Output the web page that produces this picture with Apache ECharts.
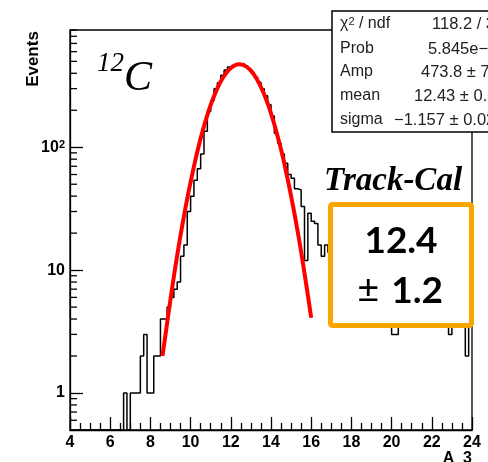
<!DOCTYPE html>
<html>
<head>
<meta charset="utf-8">
<script src="https://cdn.jsdelivr.net/npm/echarts@6/dist/echarts.min.js"></script>
<style>
  html, body { margin: 0; padding: 0; background: #fff; }
  #chart { width: 488px; height: 462px; }
</style>
</head>
<body>
<div id="chart"></div>
<script>
  // histogram: 120 bins of width 1/6 between 4 and 24
  var binStart = 4;
  var binWidth = 1 / 6;
  var counts = [
    0, 0, 0, 0, 0, 0, 0, 0, 0, 0, 0, 0, 0, 0, 0, 0,
    1, 0, 1, 1, 1, 2, 3, 1, 1, 2, 2, 4, 4, 5, 6, 7,
    8, 13, 16, 30, 40, 54, 67, 88, 135, 195, 240, 300, 335, 385, 425, 450,
    462, 466, 471, 478, 460, 432, 402, 372, 338, 300, 262, 222, 180, 130, 108, 88,
    74, 60, 56, 46, 45, 33, 12, 29, 25, 24, 16, 13, 16, 14, 11, 12,
    9, 10, 8, 9, 7, 8, 6, 7, 6, 5, 6, 5, 7, 5, 4, 5,
    3, 3, 5, 4, 6, 4, 5, 4, 4, 5, 4, 6, 4, 5, 4, 4,
    5, 3, 4, 5, 4, 5, 2, 6
  ];

  // gaussian fit line, sampled every 0.2 from 8.6 to 16.0
  var fitStart = 8.6;
  var fitStep = 0.2;
  var fitValues = [
    2.0, 3.4, 5.8, 9.6, 15.4, 23.8, 35.8, 52, 74, 102,
    136, 176, 221, 269, 319, 366, 408, 442, 464, 474,
    469, 450, 420, 380, 333, 284, 235, 189, 147, 111,
    82, 58, 40, 27, 17.6, 11.1, 6.8, 4.1
  ];

  var xMin = 4, xMax = 24, xStep = 2;
  var yMin = 0.5, yMax = 900;
  var yMinorTicks = [0.6, 0.7, 0.8, 0.9, 2, 3, 4, 5, 6, 7, 8, 9,
    20, 30, 40, 50, 60, 70, 80, 90, 200, 300, 400, 500, 600, 700, 800, 900];

  var statsNames = ['{a|χ}{s|2}{a| / ndf}', 'Prob', 'Amp', 'mean', 'sigma'];
  var statsValues = ['118.2 / 34', '5.845e−10', '473.8 ± 7.3', '12.43 ± 0.03', '−1.157 ± 0.025'];

  var chart = echarts.init(document.getElementById('chart'));

  var histData = [];
  for (var i = 0; i < counts.length; i++) {
    histData.push([binStart + i * binWidth, Math.max(counts[i], yMin)]);
  }
  histData.push([binStart + counts.length * binWidth, Math.max(counts[counts.length - 1], yMin)]);

  var fitData = fitValues.map(function (v, k) {
    return [fitStart + k * fitStep, v];
  });

  var labelFont = { fontFamily: 'Liberation Sans', fontWeight: 'bold', fontSize: 16, color: '#000' };
  var statFont = 'Liberation Sans';
  var statRowY = [24, 49, 72, 96, 120];
  var statValX = [432, 428, 421, 414, 394];

  var graphics = [
    {
      type: 'text', x: 33, y: 59, rotation: Math.PI / 2, z: 100,
      style: { text: 'Events', x: 0, y: 0, align: 'center', verticalAlign: 'middle',
        fontFamily: 'Liberation Sans', fontWeight: 'bold', fontSize: 17, fill: '#000' }
    },
    {
      type: 'text', z: 100,
      style: { text: 'A_3', x: 472, y: 451, align: 'right', verticalAlign: 'top',
        fontFamily: 'Liberation Sans', fontWeight: 'bold', fontSize: 16, fill: '#000' }
    },
    {
      type: 'text', z: 100,
      style: { text: '12', x: 97, y: 64, align: 'left', verticalAlign: 'middle',
        fontFamily: 'Liberation Serif', fontStyle: 'italic', fontSize: 27, fill: '#000' }
    },
    {
      type: 'text', z: 100,
      style: { text: 'C', x: 124, y: 79, align: 'left', verticalAlign: 'middle',
        fontFamily: 'Liberation Serif', fontStyle: 'italic', fontSize: 42, fill: '#000' }
    },
    {
      type: 'text', z: 100,
      style: { text: 'Track-Cal', x: 393, y: 181, align: 'center', verticalAlign: 'middle',
        fontFamily: 'Liberation Serif', fontStyle: 'italic', fontWeight: 'bold', fontSize: 33, fill: '#000' }
    },
    {
      type: 'rect', z: 100,
      shape: { x: 332, y: 11, width: 170, height: 121 },
      style: { fill: '#fff', stroke: '#000', lineWidth: 1.5 }
    },
    {
      type: 'rect', z: 100,
      shape: { x: 330.5, y: 204.5, width: 141, height: 121, r: 2 },
      style: { fill: '#fff', stroke: '#F7A600', lineWidth: 5 }
    },
    {
      type: 'text', z: 101,
      style: { text: '12.4', x: 401, y: 241, align: 'center', verticalAlign: 'middle',
        fontFamily: 'Lato', fontWeight: 'bold', fontSize: 37, fill: '#000' }
    },
    {
      type: 'text', z: 101,
      style: { text: '{p|±}{b|1.2}', x: 400, y: 291, align: 'center', verticalAlign: 'middle',
        rich: {
          p: { fontFamily: 'Lato', fontSize: 38, fill: '#000' },
          b: { fontFamily: 'Lato', fontWeight: 'bold', fontSize: 37, fill: '#000', padding: [0, 0, 0, 12] }
        } }
    }
  ];

  statsNames.forEach(function (t, k) {
    graphics.push({
      type: 'text', z: 101,
      style: { text: t, x: 340, y: statRowY[k], align: 'left', verticalAlign: 'middle',
        fontFamily: statFont, fontSize: 16, fill: '#222',
        rich: {
          a: { fontFamily: statFont, fontSize: 16, fill: '#222' },
          s: { fontFamily: statFont, fontSize: 11, fill: '#222', verticalAlign: 'top' }
        } }
    });
    graphics.push({
      type: 'text', z: 101,
      style: { text: statsValues[k], x: statValX[k], y: statRowY[k], align: 'left', verticalAlign: 'middle',
        fontFamily: statFont, fontSize: 16.5, fill: '#222' }
    });
  });

  var option = {
    animation: false,
    backgroundColor: '#fff',
    grid: {
      left: 70, top: 30, right: 16, bottom: 32,
      show: true, borderColor: '#000', borderWidth: 1.3,
      outerBoundsMode: 'none'
    },
    xAxis: {
      type: 'value', min: xMin, max: xMax, interval: xStep,
      axisLine: { show: true, onZero: false, lineStyle: { color: '#000', width: 1.3 } },
      axisTick: { show: true, inside: true, length: 13, lineStyle: { color: '#000', width: 1.3 } },
      minorTick: { show: true, splitNumber: 4, length: 7, lineStyle: { color: '#000', width: 1.3 } },
      axisLabel: Object.assign({ margin: 5 }, labelFont),
      splitLine: { show: false }
    },
    yAxis: {
      type: 'log', logBase: 10, min: yMin, max: yMax,
      axisLine: { show: true, lineStyle: { color: '#000', width: 1.3 } },
      axisTick: { show: true, inside: true, length: 13, lineStyle: { color: '#000', width: 1.3 } },
      axisLabel: Object.assign({
        margin: 5, showMinLabel: false, showMaxLabel: false,
        formatter: function (v) {
          var r = Math.round(v);
          if (r === 100) return '{n|10}{s|2}';
          return '{n|' + r + '}';
        },
        rich: {
          n: { fontFamily: 'Liberation Sans', fontWeight: 'bold', fontSize: 16, color: '#000' },
          s: { fontFamily: 'Liberation Sans', fontWeight: 'bold', fontSize: 11, color: '#000', verticalAlign: 'top' }
        }
      }, labelFont),
      splitLine: { show: false }
    },
    series: [
      {
        type: 'line', step: 'end', data: histData, symbol: 'none',
        lineStyle: { color: '#000', width: 1.5 }, silent: true
      },
      {
        type: 'line', data: fitData, symbol: 'none', smooth: 0.4,
        lineStyle: { color: '#ff0000', width: 4 }, silent: true
      },
      {
        type: 'custom', silent: true, clip: false,
        data: yMinorTicks.map(function (v) { return [xMin, v]; }),
        renderItem: function (params, api) {
          var p = api.coord([api.value(0), api.value(1)]);
          return {
            type: 'line',
            shape: { x1: p[0], y1: p[1], x2: p[0] + 7, y2: p[1] },
            style: { stroke: '#000', lineWidth: 1.3 }
          };
        }
      }
    ],
    graphic: graphics
  };

  chart.setOption(option);
</script>
</body>
</html>
